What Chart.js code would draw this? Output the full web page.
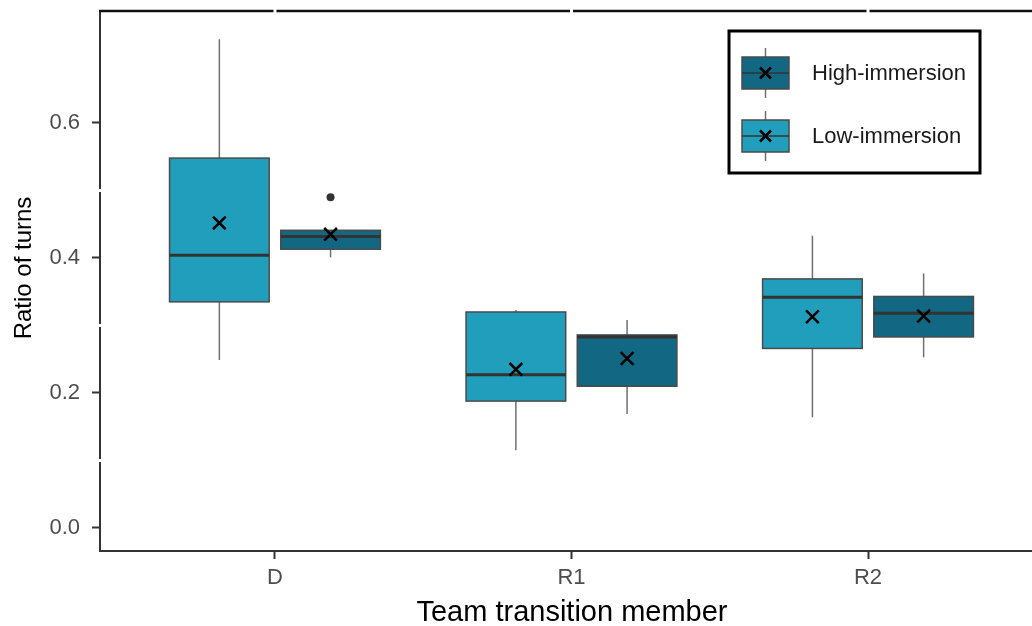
<!DOCTYPE html>
<html>
<head>
<meta charset="utf-8">
<script src="https://cdn.jsdelivr.net/npm/chart.js@4"></script>
<style>
  body { margin: 0; background: #fff; }
  #wrap { width: 1032px; height: 626px; position: relative; }
</style>
</head>
<body>
<div id="wrap"><canvas id="chart"></canvas></div>
<script>
// categories and summary stats
const categories = ["D", "R1", "R2"];
const groupNames = ["High-immersion", "Low-immersion"];

const lowMin = [0.249, 0.115, 0.164];
const lowQ1 = [0.335, 0.188, 0.266];
const lowMed = [0.404, 0.227, 0.342];
const lowQ3 = [0.548, 0.320, 0.369];
const lowMax = [0.724, 0.323, 0.433];
const lowMean = [0.452, 0.235, 0.313];

const highMin = [0.401, 0.169, 0.253];
const highQ1 = [0.413, 0.210, 0.283];
const highMed = [0.432, 0.283, 0.318];
const highQ3 = [0.441, 0.286, 0.343];
const highMax = [0.441, 0.308, 0.377];
const highMean = [0.435, 0.251, 0.314];
const highOutliers = [[0.490], [], []];

const yTicks = [0, 0.2, 0.4, 0.6];

const lowColor = "#219ebc";
const highColor = "#126782";
const dodge = 0.1875;
const halfBox = 0.168;
const fontFam = "'Liberation Sans', Arial, sans-serif";

const boxes = [
    { off: -dodge, color: lowColor, min: lowMin, q1: lowQ1, med: lowMed, q3: lowQ3, max: lowMax },
    { off: dodge, color: highColor, min: highMin, q1: highQ1, med: highMed, q3: highQ3, max: highMax }
];

// boxes, whiskers and medians under the points
const boxPlugin = {
    id: "boxes",
    beforeDatasetsDraw(chart) {
        const ctx = chart.ctx, xs = chart.scales.x, ys = chart.scales.y;
        ctx.save();
        boxes.forEach(b => {
            categories.forEach((c, i) => {
                const cx = xs.getPixelForValue(i + b.off);
                const l = xs.getPixelForValue(i + b.off - halfBox);
                const r = xs.getPixelForValue(i + b.off + halfBox);
                const top = ys.getPixelForValue(b.q3[i]);
                const bot = ys.getPixelForValue(b.q1[i]);
                // whiskers
                ctx.strokeStyle = "#707070";
                ctx.lineWidth = 1.5;
                ctx.beginPath();
                ctx.moveTo(cx, ys.getPixelForValue(b.max[i]));
                ctx.lineTo(cx, top);
                ctx.moveTo(cx, bot);
                ctx.lineTo(cx, ys.getPixelForValue(b.min[i]));
                ctx.stroke();
                // box
                ctx.fillStyle = b.color;
                ctx.fillRect(l, top, r - l, bot - top);
                ctx.strokeStyle = "#4a4a4a";
                ctx.lineWidth = 1.5;
                ctx.strokeRect(l, top, r - l, bot - top);
                // median
                const m = ys.getPixelForValue(b.med[i]);
                ctx.strokeStyle = "#333333";
                ctx.lineWidth = 3;
                ctx.beginPath();
                ctx.moveTo(l, m);
                ctx.lineTo(r, m);
                ctx.stroke();
            });
        });
        ctx.restore();
    },
    afterDraw(chart) {
        const ctx = chart.ctx, a = chart.chartArea;
        const xs = chart.scales.x, ys = chart.scales.y;
        ctx.save();
        // top border with the little white gaps
        ctx.strokeStyle = "#111";
        ctx.lineWidth = 2.5;
        ctx.beginPath();
        ctx.moveTo(a.left - 1, a.top);
        ctx.lineTo(a.right, a.top);
        ctx.stroke();
        ctx.fillStyle = "#fff";
        [0, 1, 2].forEach(v => {
            ctx.fillRect(xs.getPixelForValue(v) - 1.5, a.top - 2, 3, 4);
        });
        [0.1, 0.3, 0.5].forEach(v => {
            ctx.fillRect(a.left - 2, ys.getPixelForValue(v) - 1.5, 4, 3);
        });

        // axis titles
        ctx.fillStyle = "#000";
        ctx.textAlign = "center";
        ctx.font = "29px " + fontFam;
        ctx.textBaseline = "alphabetic";
        ctx.fillText("Team transition member", 572, 621);
        ctx.save();
        ctx.translate(24, 268);
        ctx.rotate(-Math.PI / 2);
        ctx.font = "24px " + fontFam;
        ctx.textBaseline = "middle";
        ctx.fillText("Ratio of turns", 0, 0);
        ctx.restore();
        ctx.textAlign = "left";

        // legend
        ctx.strokeStyle = "#000";
        ctx.lineWidth = 3;
        ctx.strokeRect(729, 31, 251, 142);
        const keys = [
            { y: 73, color: highColor, label: groupNames[0] },
            { y: 136, color: lowColor, label: groupNames[1] }
        ];
        keys.forEach(k => {
            ctx.strokeStyle = "#707070";
            ctx.lineWidth = 1.5;
            ctx.beginPath();
            ctx.moveTo(765.5, k.y - 25);
            ctx.lineTo(765.5, k.y + 25);
            ctx.stroke();
            ctx.fillStyle = k.color;
            ctx.fillRect(742, k.y - 16, 47, 32);
            ctx.strokeStyle = "#4a4a4a";
            ctx.strokeRect(742, k.y - 16, 47, 32);
            ctx.strokeStyle = "#333";
            ctx.lineWidth = 1.5;
            ctx.beginPath();
            ctx.moveTo(742, k.y);
            ctx.lineTo(789, k.y);
            ctx.stroke();
            ctx.strokeStyle = "#000";
            ctx.lineWidth = 2.5;
            ctx.beginPath();
            ctx.moveTo(760, k.y - 5.5);
            ctx.lineTo(771, k.y + 5.5);
            ctx.moveTo(771, k.y - 5.5);
            ctx.lineTo(760, k.y + 5.5);
            ctx.stroke();
            ctx.fillStyle = "#1a1a1a";
            ctx.font = "22px " + fontFam;
            ctx.textBaseline = "middle";
            ctx.fillText(k.label, 812, k.y + 1);
        });
        ctx.restore();
    }
};

let meanLow = lowMean.map((v, i) => ({ x: i - dodge, y: v }));
let meanHigh = highMean.map((v, i) => ({ x: i + dodge, y: v }));
let outPts = [];
highOutliers.forEach((arr, i) => arr.forEach(v => outPts.push({ x: i + dodge, y: v })));

const tickFont = { family: fontFam, size: 22 };

// drop the label overhang padding chart.js adds at the axis ends
const noPad = s => { s.paddingTop = 0; s.paddingBottom = 0; s.paddingLeft = 0; s.paddingRight = 0; };

new Chart(document.getElementById("chart"), {
    type: "scatter",
    data: {
        datasets: [{
            label: "outliers",
            data: outPts,
            pointStyle: "circle",
            pointRadius: 4,
            backgroundColor: "#333",
            borderWidth: 0
        }, {
            label: "mean low",
            data: meanLow,
            pointStyle: "crossRot",
            pointRadius: 9,
            borderColor: "#000",
            borderWidth: 2.5
        }, {
            label: "mean high",
            data: meanHigh,
            pointStyle: "crossRot",
            pointRadius: 9,
            borderColor: "#000",
            borderWidth: 2.5
        }]
    },
    options: {
        responsive: true,
        maintainAspectRatio: false,
        animation: false,
        layout: { autoPadding: false, padding: { top: 11, left: 0, right: 0, bottom: 0 } },
        plugins: {
            legend: { display: false },
            tooltip: { enabled: false }
        },
        scales: {
            x: {
                type: "linear",
                min: -0.59,
                max: 2.553,
                afterBuildTicks: s => { s.ticks = [0, 1, 2].map(v => ({ value: v })); },
                afterFit: s => { s.height = 75; noPad(s); },
                ticks: {
                    callback: v => categories[v],
                    color: "#4d4d4d",
                    font: tickFont,
                    padding: 6,
                    maxRotation: 0
                },
                grid: { drawOnChartArea: false, tickLength: 8, tickWidth: 2, tickColor: "#333" },
                border: { display: true, color: "#333", width: 2 }
            },
            y: {
                min: -0.0341,
                max: 0.7659,
                afterBuildTicks: s => { s.ticks = yTicks.map(v => ({ value: v })); },
                afterFit: s => { s.width = 100; noPad(s); },
                ticks: {
                    callback: v => v.toFixed(1),
                    color: "#4d4d4d",
                    font: tickFont,
                    padding: 12
                },
                grid: { drawOnChartArea: false, tickLength: 8, tickWidth: 2, tickColor: "#333" },
                border: { display: true, color: "#333", width: 2 }
            }
        }
    },
    plugins: [boxPlugin]
});
</script>
</body>
</html>
